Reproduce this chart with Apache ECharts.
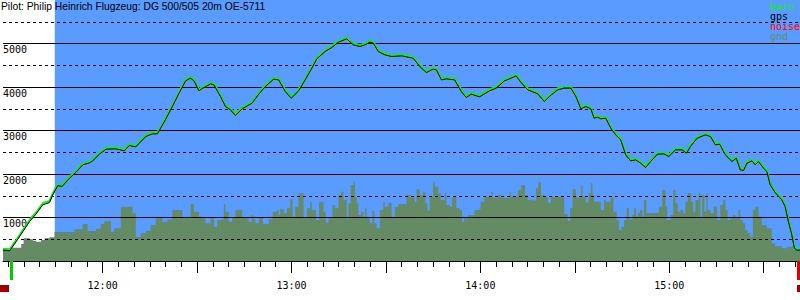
<!DOCTYPE html>
<html><head><meta charset="utf-8">
<script src="https://cdn.jsdelivr.net/npm/echarts@6/dist/echarts.min.js"></script>
<style>html,body{margin:0;padding:0;background:#fff}#c{width:800px;height:300px}</style>
</head><body><div id="c"></div>
<script>
// ---- data (time in minutes since midnight, altitude in m) ----
const titleText = 'Pilot: Philip Heinrich Flugzeug: DG 500/505 20m OE-5711';
const legendNames = ['baro', 'gps', 'noise', 'gnd'];
const yTickLabels = [1000, 2000, 3000, 4000, 5000];
const hourLabelTimes = [720, 780, 840, 900];
const timeMin = 688.35, timeMax = 941.55;
const windowStart = 704.8;
const takeoffTime = 690.9, landingTime = 940.9;

const baroTime = [688.35,690.47,692.56,694.68,696.80,698.89,701.01,703.13,704.18,705.76,707.12,709.46,711.55,713.67,715.79,716.84,718.96,721.05,724.21,726.87,728.45,730.54,733.71,735.83,737.41,740.04,742.16,744.28,746.37,747.95,749.03,750.61,751.65,754.28,755.36,757.45,759.03,760.61,762.19,764.31,767.48,769.60,771.69,774.35,775.93,778.02,779.92,782.26,784.35,786.47,788.05,790.68,792.80,794.92,797.55,799.67,801.76,803.34,804.92,806.00,807.58,809.67,811.79,814.96,818.66,820.75,822.87,824.99,826.04,827.62,829.20,831.83,833.95,835.53,837.11,839.74,842.90,845.02,847.65,849.78,851.36,852.94,855.06,858.22,860.31,861.90,864.56,866.65,868.77,870.35,871.93,873.51,875.10,876.14,877.22,878.26,879.84,881.43,883.01,884.59,886.17,887.76,889.34,890.92,892.50,894.09,896.21,898.30,899.88,902.00,904.12,905.48,906.75,908.87,911.50,913.08,914.66,916.02,917.83,919.95,921.31,922.57,923.62,924.70,926.28,927.32,928.37,929.95,931.02,932.07,933.65,935.77,936.82,937.86,938.94,939.76,940.52,941.55];
const baroAlt = [283,269,483,713,943,1119,1326,1379,1556,1770,1747,1938,2076,2245,2291,2337,2490,2605,2613,2567,2690,2659,2897,2958,2958,3295,3586,3893,4176,4238,4176,3946,4000,4107,4084,3816,3586,3510,3379,3533,3663,3870,4046,4215,4199,3931,3778,3946,4199,4467,4682,4851,4943,5065,5142,5004,4966,5004,5065,5042,4851,4774,4736,4751,4697,4506,4368,4444,4429,4199,4222,4199,3931,3793,3870,3809,3946,4008,4176,4238,4291,4138,3970,3878,3701,3816,3970,4008,4008,3816,3533,3586,3533,3318,3341,3303,3318,3088,2935,2820,2475,2337,2360,2283,2184,2322,2490,2498,2437,2590,2590,2513,2667,2858,2935,2897,2705,2720,2475,2322,2398,2130,2115,2283,2337,2245,2322,2168,2092,1786,1609,1441,1287,943,636,329,276,276];
const gpsAlt = [248,234,448,678,908,1084,1291,1344,1521,1735,1712,1903,2041,2210,2256,2302,2455,2570,2578,2532,2655,2624,2862,2923,2923,3260,3551,3858,4141,4203,4141,3911,3965,4072,4049,3781,3551,3475,3344,3498,3628,3835,4011,4180,4164,3896,3743,3911,4164,4432,4647,4816,4908,5030,5107,4969,4931,4969,5030,5007,4816,4739,4701,4716,4662,4471,4333,4409,4394,4164,4187,4164,3896,3758,3835,3774,3911,3973,4141,4203,4256,4103,3935,3843,3666,3781,3935,3973,3973,3781,3498,3551,3498,3283,3306,3268,3283,3053,2900,2785,2440,2302,2325,2248,2149,2287,2455,2463,2402,2555,2555,2478,2632,2823,2900,2862,2670,2685,2440,2287,2363,2095,2080,2248,2302,2210,2287,2133,2057,1751,1574,1406,1252,908,601,294,250,250];

const gndTime = [688.35,690.98,694.14,694.90,696.80,697.85,698.89,700.47,701.55,703.13,704.71,711.04,713.67,715.25,717.88,719.46,720.54,722.63,723.70,725.79,729.50,730.54,732.12,733.71,735.29,736.87,738.99,740.57,742.16,745.32,746.37,747.95,749.03,750.61,
751.65,752.70,754.28,755.36,756.40,757.45,758.52,759.03,760.10,761.15,762.19,764.31,766.43,767.26,768.02,768.52,769.60,770.96,772.76,774.03,775.39,775.93,776.44,777.51,778.56,779.60,780.36,781.19,782.26,783.84,784.89,785.93,786.47,787.74,788.78,790.17,790.90,791.76,793.02,793.85,794.92,795.75,796.50,797.55,798.09,798.81,799.67,800.17,800.71,801.25,802.08,802.84,803.34,803.88,804.92,805.68,806.32,807.05,808.09,809.17,809.67,810.75,811.79,812.84,813.91,
814.96,816.54,818.12,819.17,819.71,820.75,821.83,822.55,823.19,823.92,824.99,825.50,826.57,827.39,828.66,829.20,830.24,831.00,832.37,833.41,834.17,834.80,836.07,838.16,839.23,840.06,841.32,843.44,843.98,845.56,846.61,849.24,849.78,851.90,852.94,854.20,855.06,856.11,857.69,858.42,859.27,860.31,861.39,862.44,864.56,865.60,866.65,867.72,868.55,869.30,870.35,871.39,871.93,872.47,873.51,874.37,875.10,875.63,876.14,
878.26,879.31,879.84,881.43,882.28,883.33,884.05,884.81,885.64,886.49,887.22,888.30,888.80,889.44,890.07,890.70,891.46,891.97,892.73,893.55,896.72,897.79,898.84,899.37,900.42,901.27,902.00,902.73,903.58,904.43,905.16,905.89,906.97,907.60,908.33,909.37,909.91,910.45,911.18,911.81,912.22,913.08,914.12,915.20,916.24,917.10,917.83,918.55,919.41,920.26,920.99,922.03,922.57,923.42,924.16,924.88,925.74,926.59,927.32,928.37,929.44,931.02,932.61,933.65,935.77,937.36,939.45,941.55];
const gndAlt = [268,307,391,521,498,467,444,483,521,544,667,728,851,690,743,851,920,674,751,1249,1096,559,636,697,828,981,904,958,1172,981,1019,1310,1134,1019,
1004,866,1004,789,943,958,1310,1134,904,1004,1172,1004,904,1050,958,866,1004,851,958,1134,1172,1057,1188,1096,1211,1418,1019,1249,1556,981,1211,1364,1172,943,1364,1134,881,1004,1287,1211,1517,1594,1402,958,1326,1747,1824,1479,1326,1057,1134,1019,1211,981,866,1157,866,751,1172,1364,1249,1341,1019,1249,1310,
1310,1517,1464,1364,1648,1517,1594,1326,1157,1479,1824,1709,1556,1402,1556,1287,1249,1464,1211,1172,904,981,1057,1172,1188,1364,1479,1579,1456,1517,1456,1579,1479,1632,1747,1517,1402,1387,1671,1809,1517,1479,1341,1479,1464,1479,1081,920,1211,1648,1464,1479,1732,1479,1341,1556,1786,1517,1364,
1172,1402,1364,1464,1134,943,713,789,943,1211,958,1057,1211,1019,1111,1172,1019,1402,1096,1111,1249,1632,1249,943,1057,1632,1326,1134,1172,1096,1364,1556,1364,1134,1402,1571,981,1517,1134,1556,1172,1096,1249,943,1287,1402,1172,943,981,1057,981,1172,943,866,705,651,559,1172,1249,1019,828,751,406,345,291,330,253,253];

// ---- styles ----
const C_BLUE = '#5a9bff', C_GND = '#658b64', C_BARO = '#11ee11', C_GPS = '#000000', C_NOISE = '#ff0000';
const legendColors = [C_BARO, C_GPS, C_NOISE, C_GND];
const MONO = '"DejaVu Sans Mono", "Liberation Mono", monospace';

const minorTickValues = [];
for (let t = 690; t <= 940; t += 5) minorTickValues.push(t);
const majorTickValues = [];
for (let t = 720; t <= 930; t += 30) majorTickValues.push(t);

function fmtTime(v) {
  const h = Math.floor(v / 60), m = Math.round(v - h * 60);
  return h + ':' + (m < 10 ? '0' : '') + m;
}

const chart = echarts.init(document.getElementById('c'), null, { renderer: 'svg' });
const xCommon = { type: 'value', min: timeMin, max: timeMax, position: 'bottom', splitLine: { show: false } };
chart.setOption({
  animation: false,
  backgroundColor: '#ffffff',
  title: {
    text: titleText, left: 0, top: 0, padding: [1, 0, 0, 1], z: 20,
    textStyle: { fontSize: 10.3, fontWeight: 'normal', fontFamily: '"Liberation Sans", Arial, sans-serif', color: '#000' }
  },
  grid: { left: 0, right: 0, top: 0, bottom: 39, containLabel: false },
  xAxis: [
    Object.assign({}, xCommon, {
      axisLine: { show: true, lineStyle: { color: '#000', width: 1 } },
      axisTick: { show: true, length: 6, customValues: minorTickValues, lineStyle: { color: '#000' } },
      axisLabel: { show: true, customValues: hourLabelTimes, margin: 19, formatter: fmtTime,
        fontFamily: MONO, fontSize: 10, color: '#000' }
    }),
    Object.assign({}, xCommon, {
      axisLine: { show: false },
      axisTick: { show: true, length: 12, customValues: majorTickValues, lineStyle: { color: '#000' } },
      axisLabel: { show: false }
    })
  ],
  yAxis: {
    type: 'value', min: 0, max: 6000, interval: 1000, z: 5,
    axisLine: { show: false }, axisTick: { show: false },
    minorTick: { show: false, splitNumber: 2 },
    splitLine: { show: true, showMaxLine: false, showMinLine: false, lineStyle: { color: '#000', width: 1 } },
    minorSplitLine: { show: true, lineStyle: { color: '#000', width: 1, type: [3, 3] } },
    axisLabel: { inside: true, margin: 0, align: 'left', verticalAlign: 'top', padding: [1, 0, 0, 0],
      customValues: yTickLabels, formatter: function (v) { return String(v); },
      fontFamily: MONO, fontSize: 10, color: '#000' }
  },
  series: [
    {
      name: 'window', type: 'custom', z: 1, silent: true,
      data: [[windowStart, timeMax]],
      renderItem: function (params, api) {
        const a = api.coord([api.value(0), 6000]);
        const b = api.coord([api.value(1), 0]);
        return { type: 'rect', shape: { x: a[0], y: a[1], width: b[0] - a[0], height: b[1] - a[1] }, style: { fill: C_BLUE } };
      }
    },
    {
      name: 'gnd', type: 'line', step: 'end', symbol: 'none', z: 2, silent: true,
      data: gndTime.map((t, i) => [t, gndAlt[i]]),
      lineStyle: { width: 0, color: C_GND }, itemStyle: { color: C_GND },
      areaStyle: { color: C_GND, opacity: 1 }
    },
    {
      name: 'baro', type: 'line', symbol: 'none', z: 6, silent: true,
      data: baroTime.map((t, i) => [t, baroAlt[i]]),
      lineStyle: { width: 2, color: C_BARO }, itemStyle: { color: C_BARO }
    },
    {
      name: 'gps', type: 'line', symbol: 'none', z: 7, silent: true,
      data: baroTime.map((t, i) => [t, gpsAlt[i]]),
      lineStyle: { width: 1, color: C_GPS }, itemStyle: { color: C_GPS }
    },
    {
      name: 'markers', type: 'custom', z: 8, silent: true, clip: false,
      data: [[takeoffTime], [landingTime]],
      renderItem: function (params, api) {
        const p = api.coord([api.value(0), 0]);
        const colors = ['#00cc00', '#dd0000'];
        return { type: 'rect', shape: { x: Math.round(p[0]) - 1, y: p[1], width: 3, height: 19 }, style: { fill: colors[params.dataIndex] } };
      }
    }
  ],
  graphic: [
    { type: 'rect', z: 20, shape: { x: 0, y: 285, width: 9, height: 7 }, style: { fill: '#a00000' } },
    { type: 'rect', z: 20, shape: { x: 797, y: 285, width: 3, height: 7 }, style: { fill: '#a00000' } }
  ].concat(legendNames.map((n, i) => ({
    type: 'text', z: 20, x: 770, y: [1, 11, 21, 31][i],
    style: { text: n, fill: legendColors[i], font: '10px ' + MONO, lineHeight: 10, verticalAlign: 'top', align: 'left' }
  })))
});
</script>
</body></html>
